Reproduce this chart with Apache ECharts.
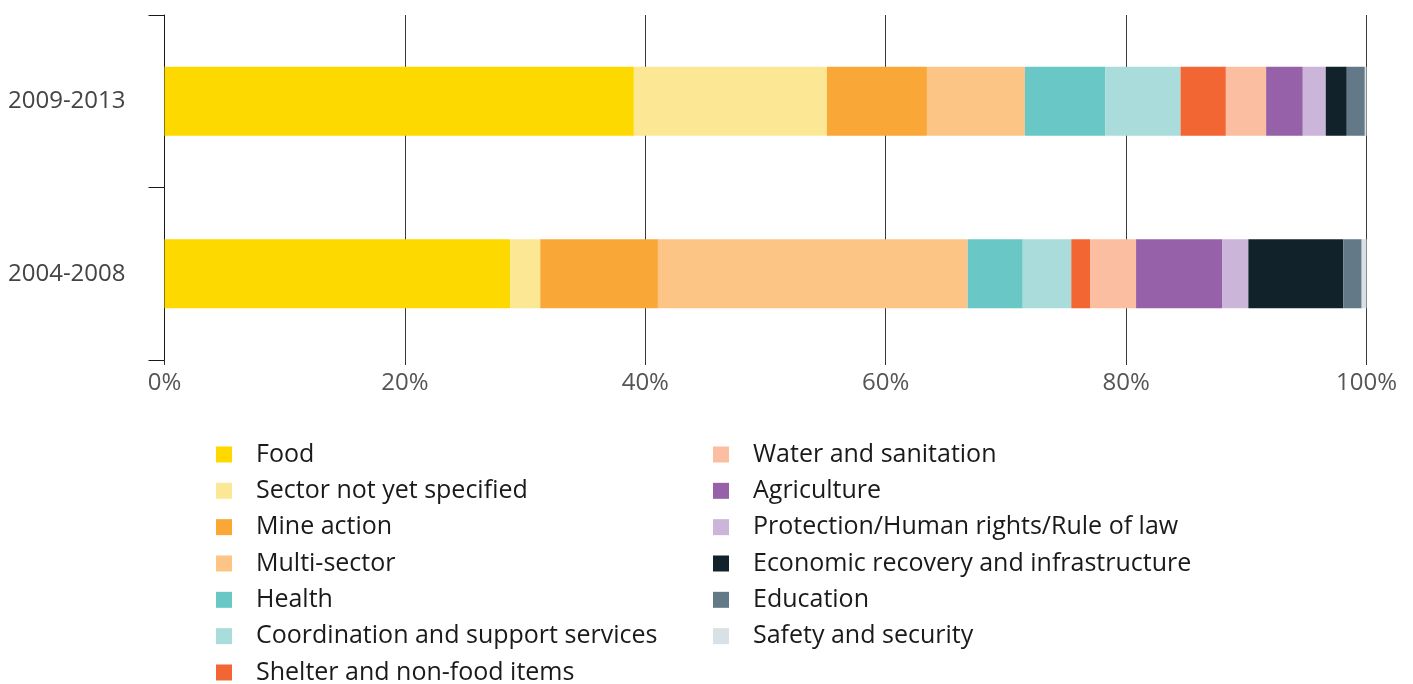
<!DOCTYPE html>
<html>
<head>
<meta charset="utf-8">
<title>Humanitarian funding by sector</title>
<script src="https://cdn.jsdelivr.net/npm/echarts@6/dist/echarts.min.js"></script>
<style>
  html, body { margin: 0; padding: 0; background: #ffffff; }
  #chart { width: 1413px; height: 684px; }
</style>
</head>
<body>
<div id="chart"></div>
<script>
// Periods, top to bottom
const periods = ['2009-2013', '2004-2008'];

// Sectors in stacking order
const sectors = [
  'Food',
  'Sector not yet specified',
  'Mine action',
  'Multi-sector',
  'Health',
  'Coordination and support services',
  'Shelter and non-food items',
  'Water and sanitation',
  'Agriculture',
  'Protection/Human rights/Rule of law',
  'Economic recovery and infrastructure',
  'Education',
  'Safety and security'
];

// Share of funding per sector (%), one array per period
const share2009to2013 = [39.05, 16.06, 8.32, 8.15, 6.68, 6.27, 3.77, 3.35, 3.05, 1.91, 1.75, 1.50, 0.14];
const share2004to2008 = [28.76, 2.50, 9.79, 25.77, 4.58, 4.04, 1.56, 3.83, 7.15, 2.19, 7.90, 1.53, 0.42];

// Percent axis ticks
const xTicks = [0, 20, 40, 60, 80, 100];

// Sector colours
const palette = [
  '#FDD900', '#FCE894', '#F9A737', '#FCC585', '#69C8C5', '#A9DCDA', '#F26633',
  '#FBBEA1', '#9661A8', '#CBB5D9', '#12222A', '#637987', '#D9E1E6'
];

const FONT = '"Open Sans", Roboto, sans-serif';

const valuesFor = [share2009to2013, share2004to2008];

const series = sectors.map((name, i) => ({
  name: name,
  type: 'bar',
  stack: 'total',
  barWidth: 69,
  itemStyle: { color: palette[i] },
  emphasis: { disabled: true },
  data: valuesFor.map(arr => arr[i])
}));

const legendText = {
  fontFamily: FONT,
  fontSize: 25,
  lineHeight: 25,
  color: '#1a1a1a',
  padding: [0, 0, 0, 19]
};

const legendBase = {
  orient: 'vertical',
  icon: 'rect',
  itemWidth: 16,
  itemHeight: 16,
  itemGap: 11.33,
  padding: 0,
  height: 300,
  selectedMode: false,
  textStyle: legendText
};

const chart = echarts.init(document.getElementById('chart'), null, { renderer: 'canvas' });

chart.setOption({
  animation: false,
  backgroundColor: '#ffffff',
  grid: { left: 164.5, right: 46.5, top: 15, bottom: 324, containLabel: false },
  legend: [
    Object.assign({}, legendBase, { left: 216, top: 442, data: sectors.slice(0, 7) }),
    Object.assign({}, legendBase, { left: 713, top: 442, data: sectors.slice(7) })
  ],
  xAxis: {
    type: 'value',
    min: xTicks[0],
    max: xTicks[xTicks.length - 1],
    interval: xTicks[1] - xTicks[0],
    axisLine: { show: false },
    axisTick: { show: true, length: 5, lineStyle: { color: '#333333', width: 1 } },
    splitLine: { show: true, lineStyle: { color: '#3a3a3a', width: 1 } },
    axisLabel: {
      formatter: '{value}%',
      margin: 11,
      fontFamily: FONT,
      fontSize: 24,
      color: '#555555'
    }
  },
  yAxis: {
    type: 'category',
    data: periods,
    inverse: true,
    axisLine: { show: true, lineStyle: { color: '#1a1a1a', width: 1 } },
    axisTick: { show: true, length: 16, lineStyle: { color: '#1a1a1a', width: 1 } },
    splitLine: { show: false },
    axisLabel: {
      margin: 39,
      padding: [11, 0, 0, 0],
      fontFamily: FONT,
      fontSize: 24,
      color: '#444444'
    }
  },
  series: series
});
</script>
</body>
</html>
